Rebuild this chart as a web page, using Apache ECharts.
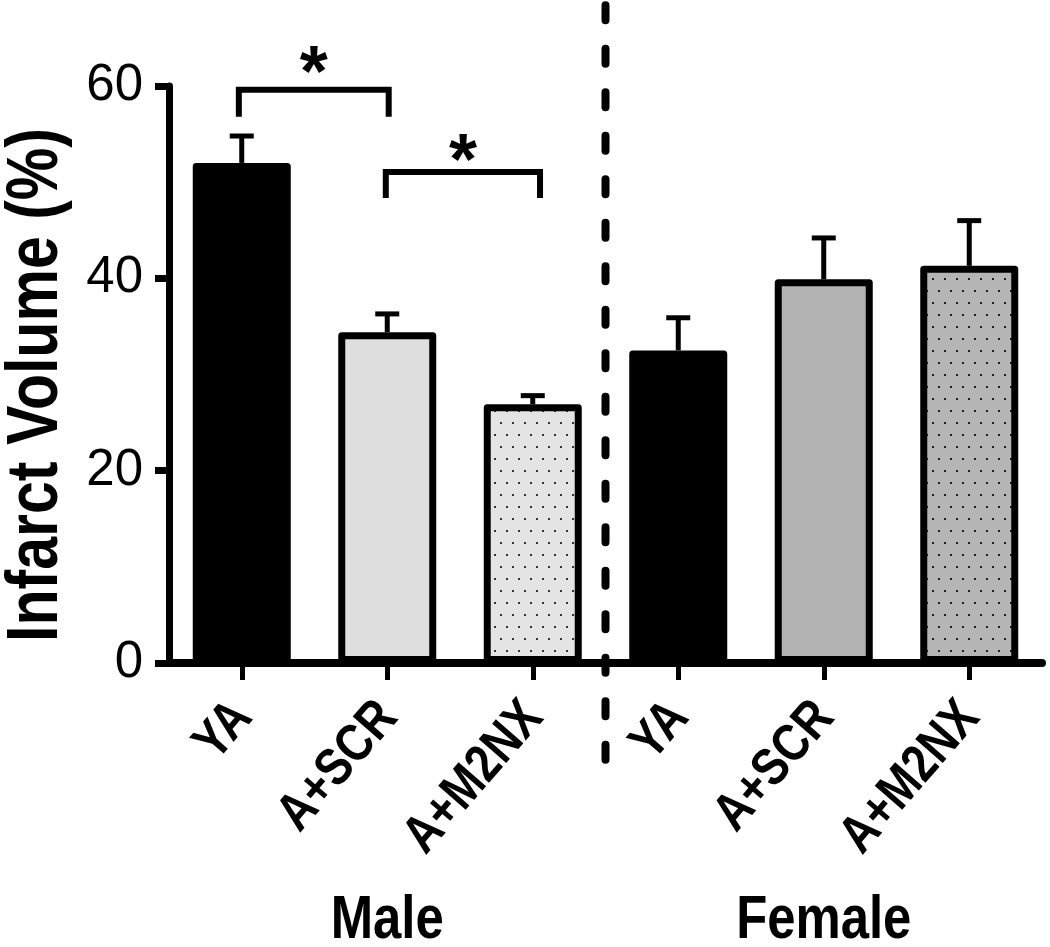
<!DOCTYPE html>
<html>
<head>
<meta charset="utf-8">
<script src="https://cdn.jsdelivr.net/npm/echarts@6/dist/echarts.min.js"></script>
<style>
html,body{margin:0;padding:0;background:#fff;}
#chart{width:1050px;height:947px;}
</style>
</head>
<body>
<div id="chart"></div>
<script>
// ---- data ----
const categories = ['YA', 'A+SCR', 'A+M2NX', 'YA', 'A+SCR', 'A+M2NX'];
const means = [52.0, 34.4, 26.9, 32.5, 39.9, 41.3];
const sems = [2.8, 1.9, 0.9, 3.4, 4.3, 4.7];
const groups = ['Male', 'Female'];
const groupCenters = [1, 4];
const yTicks = [0, 20, 40, 60];
// brackets: [fromIndex, toIndex, level, dropTo, starLevel]
const brackets = [
  [-0.02, 1.01, 59.6, 56.8, 61.0],
  [0.99, 2.05, 51.05, 48.35, 51.9]
];
const separator = [[2.5, 68.4, -11.2]];
const groupLabelLevel = -26.8;

// ---- styles ----
function dotPattern(bg, dot) {
  const c = document.createElement('canvas');
  c.width = 12; c.height = 24;
  const g = c.getContext('2d');
  g.fillStyle = bg; g.fillRect(0, 0, 12, 24);
  g.fillStyle = dot;
  g.fillRect(2, 2, 2, 2);
  g.fillRect(8, 14, 2, 2);
  return c;
}
const fills = [
  '#000000',
  '#dedede',
  { image: dotPattern('#e4e4e4', '#333333'), repeat: 'repeat' },
  '#000000',
  '#b3b3b3',
  { image: dotPattern('#b5b5b5', '#1e1e1e'), repeat: 'repeat' }
];
const font = "'Liberation Sans', Arial, sans-serif";
const condense = 0.84;

const chart = echarts.init(document.getElementById('chart'));
const option = {
  backgroundColor: '#ffffff',
  animation: false,
  grid: { left: 169, right: 8, top: 86, bottom: 284 },
  xAxis: [{
    type: 'category',
    data: categories,
    axisLine: { onZero: false, lineStyle: { color: '#000', width: 8 } },
    axisTick: { show: true, alignWithLabel: true, length: 17, lineStyle: { color: '#000', width: 5 } },
    axisLabel: { show: false }
  }, {
    type: 'value', min: -0.5, max: 5.5, show: false,
    axisLine: { show: false, onZero: false }, splitLine: { show: false }
  }],
  yAxis: {
    type: 'value', min: 0, max: 60, interval: 20,
    axisLine: { show: true, onZero: false, lineStyle: { color: '#000', width: 7 } },
    axisTick: { show: true, length: 14, lineStyle: { color: '#000', width: 7 } },
    splitLine: { show: false },
    axisLabel: { margin: 26, color: '#000', fontSize: 51, fontFamily: font,
      formatter: v => yTicks.indexOf(v) >= 0 ? String(v) : '' }
  },
  graphic: [{
    type: 'text', x: 37, y: 385, rotation: Math.PI / 2, scaleX: 0.82,
    style: { text: 'Infarct Volume (%)', fontSize: 72, fontWeight: 'bold', fontFamily: font,
      fill: '#000', align: 'center', verticalAlign: 'middle' }
  }],
  series: [
    {
      type: 'custom', xAxisIndex: 0, z: 1,
      data: means.map((m, i) => [i, m, m + sems[i]]),
      encode: { x: 0, y: [1, 2] },
      renderItem: (params, api) => {
        const lo = api.coord([api.value(0), api.value(1)]);
        const hi = api.coord([api.value(0), api.value(2)]);
        return { type: 'group', children: [
          { type: 'line', shape: { x1: lo[0], y1: lo[1], x2: hi[0], y2: hi[1] }, style: { stroke: '#000', lineWidth: 5 } },
          { type: 'line', shape: { x1: hi[0] - 12, y1: hi[1], x2: hi[0] + 12, y2: hi[1] }, style: { stroke: '#000', lineWidth: 5 } }
        ] };
      }
    },
    {
      type: 'bar', xAxisIndex: 0, z: 2, barWidth: 98,
      data: means.map((m, i) => ({ value: m, itemStyle: { color: fills[i] } })),
      itemStyle: { borderColor: '#000', borderWidth: 7, borderJoin: 'round' }
    },
    {
      // category tick labels, rotated
      type: 'custom', xAxisIndex: 0, z: 3, clip: false,
      data: categories.map((c, i) => [i, 0]),
      encode: { x: 0, y: 1 },
      renderItem: (params, api) => {
        const p = api.coord([api.value(0), 0]);
        return { type: 'text', x: p[0] + 1, y: p[1] + 46, rotation: 49 * Math.PI / 180, scaleX: condense,
          style: { text: categories[params.dataIndex], fontSize: 53, fontWeight: 'bold', fontFamily: font,
            fill: '#000', align: 'right', verticalAlign: 'middle' } };
      }
    },
    {
      type: 'custom', xAxisIndex: 1, z: 3, clip: false,
      data: brackets,
      encode: { x: [0, 1], y: [2, 3] },
      renderItem: (params, api) => {
        const x1 = api.value(0), x2 = api.value(1), lv = api.value(2), dr = api.value(3), st = api.value(4);
        const a = api.coord([x1, dr]), b = api.coord([x1, lv]), c = api.coord([x2, lv]), d = api.coord([x2, dr]);
        const s = api.coord([(x1 + x2) / 2, st]);
        return { type: 'group', children: [
          { type: 'polyline', shape: { points: [a, b, c, d] }, style: { stroke: '#000', lineWidth: 6, fill: null } },
          { type: 'text', x: s[0], y: s[1], style: { text: '*', fontSize: 72, fontWeight: 'bold', fontFamily: font,
            fill: '#000', align: 'center', verticalAlign: 'middle' } }
        ] };
      }
    },
    {
      type: 'custom', xAxisIndex: 1, z: 3, clip: false,
      data: separator,
      encode: { x: 0, y: [1, 2] },
      renderItem: (params, api) => {
        const t = api.coord([api.value(0), api.value(1)]);
        const b = api.coord([api.value(0), api.value(2)]);
        return { type: 'line', shape: { x1: t[0], y1: t[1], x2: b[0], y2: b[1] },
          style: { stroke: '#000', lineWidth: 8, lineDash: [15, 28.5], lineCap: 'round' } };
      }
    },
    {
      type: 'custom', xAxisIndex: 0, z: 3, clip: false,
      data: groupCenters.map(c => [c, groupLabelLevel]),
      encode: { x: 0, y: 1 },
      renderItem: (params, api) => {
        const p = api.coord([api.value(0), api.value(1)]);
        return { type: 'text', x: p[0], y: p[1], scaleX: 0.82, style: { text: groups[params.dataIndex], fontSize: 62,
          fontWeight: 'bold', fontFamily: font, fill: '#000', align: 'center', verticalAlign: 'middle' } };
      }
    }
  ]
};
chart.setOption(option);
</script>
</body>
</html>
